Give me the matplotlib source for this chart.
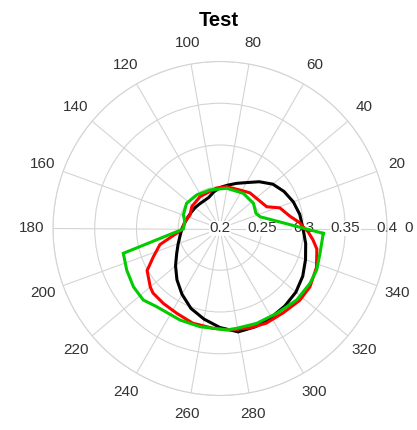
import numpy as np
import matplotlib
matplotlib.use("Agg")
import matplotlib.pyplot as plt

plt.rcParams['font.family'] = ['Liberation Sans', 'DejaVu Sans']

title = "Test"
theta_ticks = list(range(0, 360, 20))
r_ticks = [0.2, 0.25, 0.3, 0.35, 0.4]
r_min, r_max = 0.2, 0.4

# black series (angle in degrees, radius)
black_deg = [0, 10, 20, 30, 40, 50, 60, 70, 80, 90, 100, 110, 120, 130, 140,
             150, 160, 170, 180, 190, 200, 210, 220, 230, 240, 250, 260, 270,
             280, 290, 300, 310, 320, 330, 340, 350, 360]
black_r = [0.2994, 0.2970, 0.2934, 0.2886, 0.2826, 0.2731, 0.2635, 0.2575,
           0.2527, 0.2491, 0.2443, 0.2395, 0.2383, 0.2383, 0.2389, 0.2395,
           0.2407, 0.2425, 0.2455, 0.2485, 0.2533, 0.2599, 0.2695, 0.2802,
           0.2910, 0.3018, 0.3102, 0.3186, 0.3257, 0.3251, 0.3228, 0.3210,
           0.3186, 0.3144, 0.3090, 0.3042, 0.2994]

# red series
red_deg = [1, 4, 10, 19, 25, 50, 62, 81, 95, 122, 142, 156, 169, 182, 195,
           203, 210, 220, 224, 233, 243, 254, 266, 276, 287, 296, 307, 318,
           327, 338, 348, 353, 358, 361]
red_r = [0.2994, 0.2960, 0.2850, 0.2758, 0.2617, 0.2557, 0.2520, 0.2507,
         0.2486, 0.2450, 0.2428, 0.2394, 0.2428, 0.2459, 0.2745, 0.2867,
         0.3008, 0.3090, 0.3114, 0.3125, 0.3140, 0.3180, 0.3198, 0.3222,
         0.3244, 0.3262, 0.3262, 0.3285, 0.3284, 0.3246, 0.3186, 0.3122,
         0.3054, 0.2994]

# green series
green_deg = [-2.7, 16.4, 23, 37, 56.5, 80.5, 104.6, 124.8, 142.9, 159.8, 169,
             180.8, 194.4, 204, 214, 223, 231, 246.4, 258.5, 273.8, 279.5,
             291.2, 303.8, 317, 328.7, 336.8, 346, 357.3]
green_r = [0.3238, 0.2499, 0.2468, 0.2501, 0.2505, 0.2489, 0.2477, 0.2489,
           0.2501, 0.2468, 0.2428, 0.2440, 0.3195, 0.3223, 0.3250, 0.3256,
           0.3205, 0.3196, 0.3200, 0.3218, 0.3212, 0.3218, 0.3222, 0.3256,
           0.3262, 0.3260, 0.3234, 0.3238]

grid_col = "#d4d4d4"
text_col = "#333333"

fig = plt.figure(figsize=(4.17, 4.30), dpi=100)
ax = fig.add_axes([53 / 417, 1 - 395.5 / 430, 334 / 417, 334 / 430],
                  projection="polar")
ax.set_axisbelow(True)

series = [(black_deg, black_r, "#000000"),
          (red_deg, red_r, "#ff0000"),
          (green_deg, green_r, "#00cc00")]
for deg, r, col in series:
    ax.plot(np.deg2rad(deg), r, color=col, lw=2.2, solid_joinstyle="miter",
            zorder=3)

ax.set_rlim(r_min, r_max)
ax.set_rticks(r_ticks)
ax.set_yticklabels([])
ax.set_thetagrids(theta_ticks, labels=[str(t) for t in theta_ticks],
                  fontsize=11, color=text_col)
ax.tick_params(axis="x", pad=5)
ax.grid(True, color=grid_col, lw=0.8)
ax.spines["polar"].set_color(grid_col)
ax.spines["polar"].set_linewidth(0.8)

for rv in r_ticks:
    ax.text(0, rv, f"{rv:g}", ha="center", va="center", fontsize=11,
            color=text_col, zorder=1,
            bbox=dict(facecolor="white", edgecolor="none", pad=0.5))

fig.text(219 / 417, 1 - 20 / 430, title, ha="center", va="center",
         fontsize=14.5, fontweight="bold", color="#000000")

fig.savefig("out.png", dpi=100)
